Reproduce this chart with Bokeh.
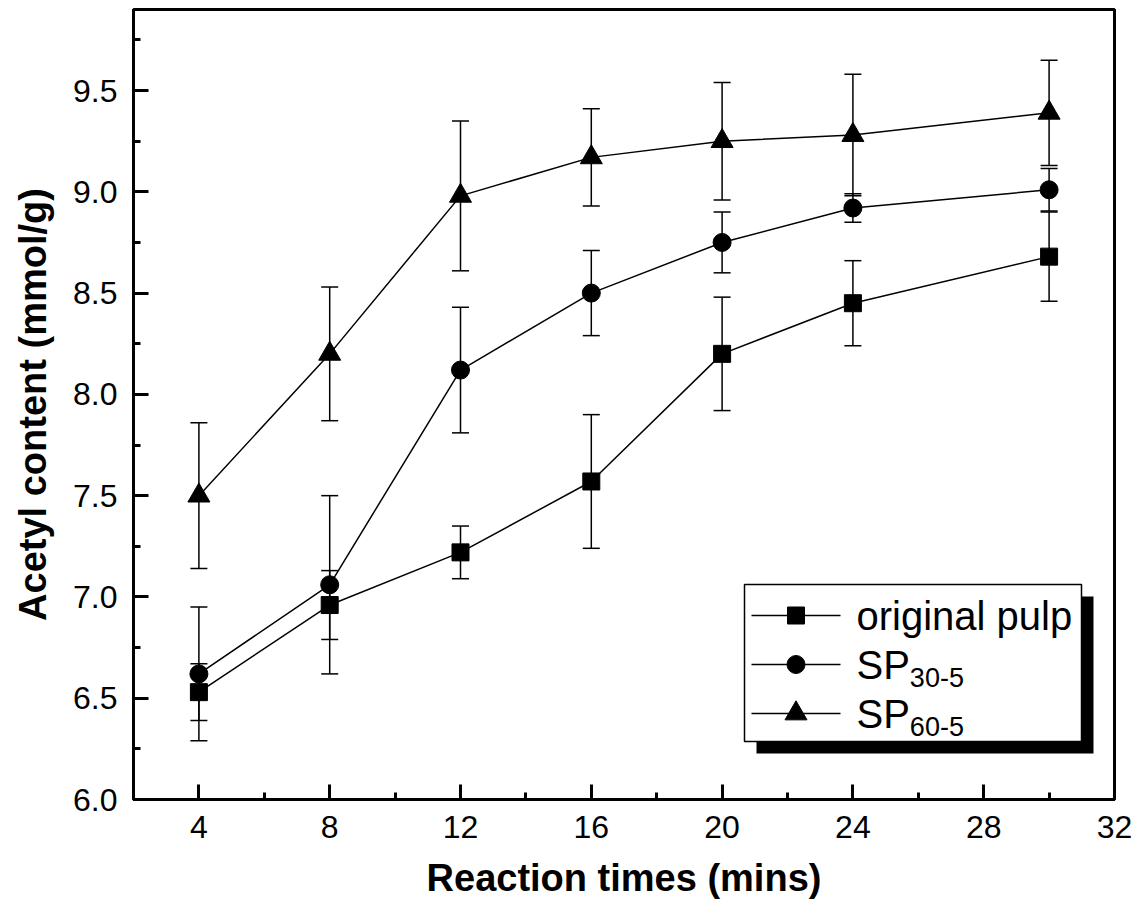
from bokeh.plotting import figure
from bokeh.models import (Range1d, FixedTicker, Whisker, ColumnDataSource,
                          TeeHead, PrintfTickFormatter)
from bokeh.core.properties import value
from bokeh.embed import file_html
from bokeh.resources import INLINE

# ---------------- data ----------------
times = [4, 8, 12, 16, 20, 24, 30]
original_pulp = [6.53, 6.96, 7.22, 7.57, 8.20, 8.45, 8.68]
original_pulp_err = [0.14, 0.17, 0.13, 0.33, 0.28, 0.21, 0.22]
sp30_5 = [6.62, 7.06, 8.12, 8.50, 8.75, 8.92, 9.01]
sp30_5_err = [0.33, 0.44, 0.31, 0.21, 0.15, 0.07, 0.105]
sp60_5 = [7.50, 8.20, 8.98, 9.17, 9.25, 9.28, 9.39]
sp60_5_err = [0.36, 0.33, 0.37, 0.24, 0.29, 0.30, 0.26]

legend_labels = ["original pulp", "SP", "SP"]
legend_subscripts = ["", "30-5", "60-5"]

x_ticks = [4, 8, 12, 16, 20, 24, 28, 32]
x_minor = [6, 10, 14, 18, 22, 26, 30]
y_ticks = [6.0, 6.5, 7.0, 7.5, 8.0, 8.5, 9.0, 9.5]
y_minor = [6.25, 6.75, 7.25, 7.75, 8.25, 8.75, 9.25, 9.75]

X0, X1 = 2, 32
Y0, Y1 = 6.0, 9.9

# ---------------- layout ----------------
FONT = "Liberation Sans"
W, H = 1142, 907
ML, MR, MT, MB = 133, 28, 9, 108   # frame: x 133..1114, y 9..799
FW = W - ML - MR
FH = H - MT - MB

p = figure(width=W, height=H, output_backend="svg", toolbar_location=None,
           x_range=Range1d(X0, X1), y_range=Range1d(Y0, Y1),
           min_border_left=ML, min_border_right=MR, min_border_top=MT,
           min_border_bottom=MB, background_fill_color="white",
           border_fill_color="white")
p.xgrid.visible = False
p.ygrid.visible = False
p.outline_line_color = "black"
p.outline_line_width = 3

for ax in (p.xaxis[0], p.yaxis[0]):
    ax.axis_line_width = 3
    ax.axis_line_color = "black"
    ax.major_tick_in = 15
    ax.major_tick_out = 0
    ax.minor_tick_in = 7
    ax.minor_tick_out = 0
    ax.major_tick_line_width = 3
    ax.minor_tick_line_width = 3
    ax.major_tick_line_color = "black"
    ax.minor_tick_line_color = "black"
    ax.major_label_text_font = FONT
    ax.major_label_text_font_size = "32px"
    ax.major_label_text_color = "black"
    ax.axis_label_text_font = FONT
    ax.axis_label_text_font_style = "bold"
    ax.axis_label_text_font_size = "38px"
    ax.axis_label_text_color = "black"

p.xaxis.ticker = FixedTicker(ticks=x_ticks, minor_ticks=x_minor)
p.yaxis.ticker = FixedTicker(ticks=y_ticks, minor_ticks=y_minor)
p.yaxis.formatter = PrintfTickFormatter(format="%.1f")
p.xaxis.axis_label = "Reaction times (mins)"
p.yaxis.axis_label = "Acetyl content (mmol/g)"
p.xaxis.major_label_standoff = 16
p.xaxis.axis_label_standoff = 16
p.yaxis.major_label_standoff = 16
p.yaxis.axis_label_standoff = 16

markers = [("square", 17), ("circle", 18), ("triangle", 22)]
series_vals = [original_pulp, sp30_5, sp60_5]
series_errs = [original_pulp_err, sp30_5_err, sp60_5_err]

for vals, errs, (marker, size) in zip(series_vals, series_errs, markers):
    src = ColumnDataSource(dict(x=times, y=vals,
                                upper=[v + e for v, e in zip(vals, errs)],
                                lower=[v - e for v, e in zip(vals, errs)]))
    wk = Whisker(base="x", upper="upper", lower="lower", source=src,
                 line_color="black", line_width=1.5,
                 upper_head=TeeHead(size=17, line_width=1.5, line_color="black"),
                 lower_head=TeeHead(size=17, line_width=1.5, line_color="black"))
    p.add_layout(wk)
    p.line("x", "y", source=src, line_color="black", line_width=1.5)
    p.scatter("x", "y", source=src, marker=marker, size=size,
              fill_color="black", line_color="black")

# ---------------- legend (box with drop shadow), placed in pixels ----------------
def dx(px):  # page px -> data x
    return X0 + (px - ML) * (X1 - X0) / FW

def dy(py):  # page px -> data y
    return Y0 + (MT + FH - py) * (Y1 - Y0) / FH

BOX_L, BOX_R, BOX_T, BOX_B = 744, 1081, 584, 741
SHADOW = 12
ROW0, ROWSTEP = 615, 49
LINE_L, LINE_R = 751, 840
TEXT_X = 856
LFS, SUBFS = 40, 27

leg_renderers = []
leg_renderers.append(p.quad(left=[dx(BOX_L + SHADOW)], right=[dx(BOX_R + SHADOW)],
                            top=[dy(BOX_T + SHADOW)], bottom=[dy(BOX_B + SHADOW)],
                            fill_color="black", line_color=None))
leg_renderers.append(p.quad(left=[dx(BOX_L)], right=[dx(BOX_R)],
                            top=[dy(BOX_T)], bottom=[dy(BOX_B)],
                            fill_color="white", line_color="black", line_width=1.5))
rows = [ROW0 + i * ROWSTEP for i in range(len(legend_labels))]
leg_renderers.append(p.segment(x0=[dx(LINE_L)] * 3, x1=[dx(LINE_R)] * 3,
                               y0=[dy(r) for r in rows], y1=[dy(r) for r in rows],
                               line_color="black", line_width=1.5))
for r, (marker, size) in zip(rows, markers):
    leg_renderers.append(p.scatter(x=[dx((LINE_L + LINE_R) / 2)], y=[dy(r)],
                                   marker=marker, size=size,
                                   fill_color="black", line_color="black"))
leg_renderers.append(p.text(x=[dx(TEXT_X)] * 3, y=[dy(r) for r in rows],
                            text=legend_labels, text_font=value(FONT),
                            text_font_size=f"{LFS}px", text_color="black",
                            text_baseline="middle", text_align="left"))
sub_rows = [r for r, s in zip(rows, legend_subscripts) if s]
sub_txt = [s for s in legend_subscripts if s]
leg_renderers.append(p.text(x=[dx(TEXT_X + 1.334 * LFS)] * len(sub_rows),
                            y=[dy(r + 0.27 * LFS + 2) for r in sub_rows],
                            text=sub_txt, text_font=value(FONT),
                            text_font_size=f"{SUBFS}px", text_color="black",
                            text_baseline="alphabetic", text_align="left"))
for rr in leg_renderers:
    rr.level = "annotation"

open("out.html", "w").write(file_html(p, INLINE))
